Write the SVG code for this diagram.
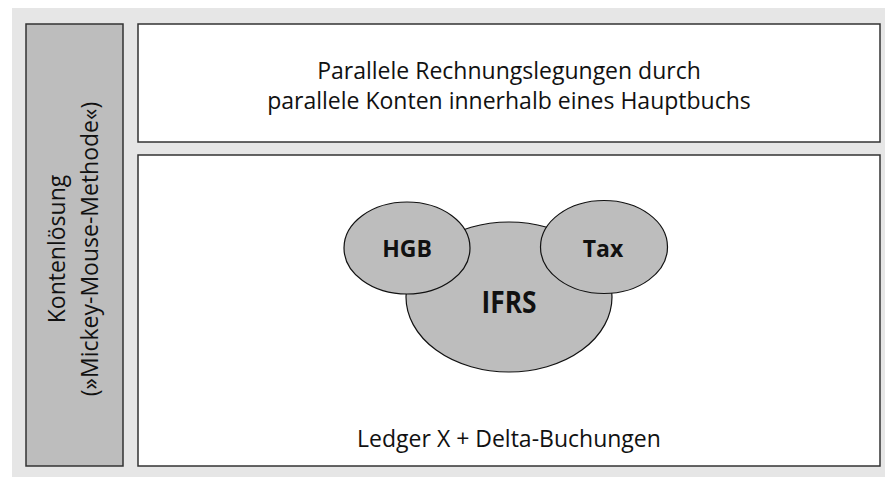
<svg xmlns="http://www.w3.org/2000/svg" width="885" height="477" viewBox="0 0 885 477">
<style>
.box{stroke:#333;stroke-width:1.5}
.t{font-family:"Open Sans","DejaVu Sans",sans-serif;fill:#111;text-anchor:middle;font-size:23px}
.ell{fill:#bdbdbd;stroke:#111;stroke-width:1.2}
.b{font-weight:bold}
</style>
<rect x="12" y="8" width="873" height="469" fill="#e6e6e6"/>
<g id="side">
<rect class="box" x="26" y="24" width="97" height="442" fill="#bdbdbd"/>
<text class="t" transform="translate(65,249) rotate(-90)">Kontenlösung</text>
<text class="t" transform="translate(98,249) rotate(-90)">(»Mickey-Mouse-Methode«)</text>
</g>
<g id="top">
<rect class="box" x="138" y="24" width="742" height="118" fill="#fff"/>
<text class="t" x="509" y="79">Parallele Rechnungslegungen durch</text>
<text class="t" x="509" y="109">parallele Konten innerhalb eines Hauptbuchs</text>
</g>
<g id="ledger">
<rect class="box" x="138" y="155" width="742" height="311" fill="#fff"/>
<text class="t" x="509" y="447">Ledger X + Delta-Buchungen</text>
</g>
<g id="ifrs">
<ellipse class="ell" cx="509" cy="297" rx="103" ry="75"/>
<text class="t b" style="font-size:30px" x="509" y="313" textLength="55" lengthAdjust="spacingAndGlyphs">IFRS</text>
</g>
<g id="hgb">
<ellipse class="ell" cx="407" cy="248" rx="63" ry="46"/>
<text class="t b" style="font-size:23px" x="407" y="257">HGB</text>
</g>
<g id="tax">
<ellipse class="ell" cx="604" cy="247" rx="63.5" ry="46.5"/>
<text class="t b" style="font-size:23px" x="603" y="257">Tax</text>
</g>
<g id="connectors"/>
</svg>
